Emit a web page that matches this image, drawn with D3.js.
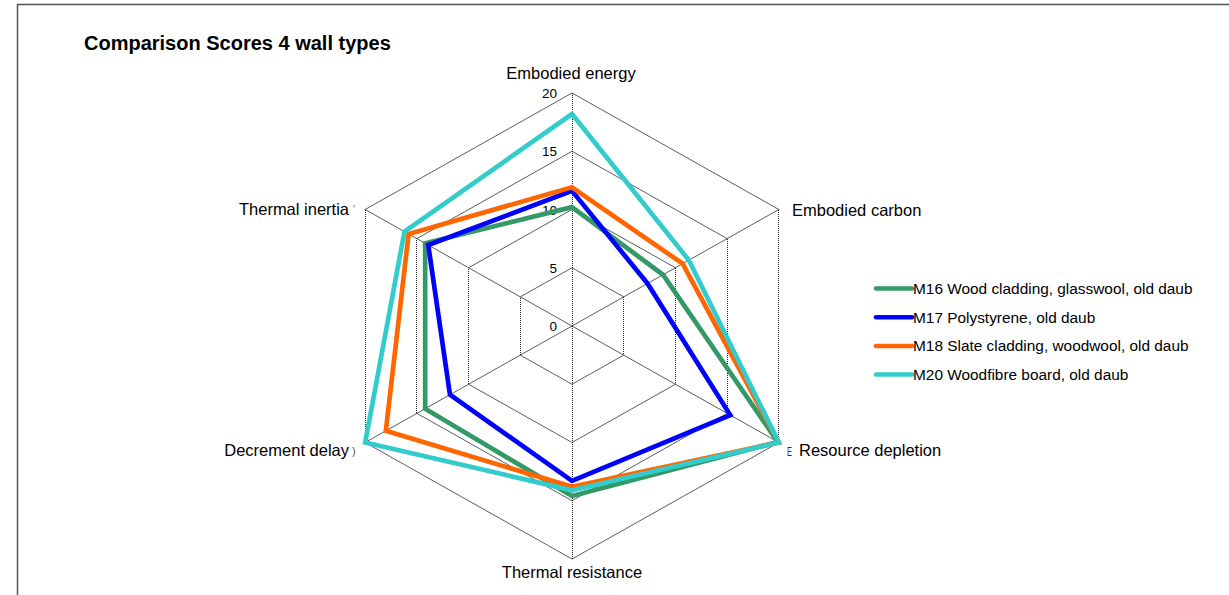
<!DOCTYPE html>
<html>
<head>
<meta charset="utf-8">
<script src="https://cdn.jsdelivr.net/npm/d3@7"></script>
<style>
  html, body { margin: 0; padding: 0; background: #fff; }
  svg { display: block; font-family: Arial, "Liberation Sans", sans-serif; }
</style>
</head>
<body>
<svg id="chart" width="1229" height="595"></svg>
<script>
// Categories (radar axes, clockwise from the top)
const axes = ["Embodied energy", "Embodied carbon", "Resource depletion",
              "Thermal resistance", "Decrement delay", "Thermal inertia"];

// Scores per wall type
const m16 = [10.2, 8.8, 19.9, 14.6, 14.2, 14.2];
const m17 = [11.6, 7.3, 15.3, 13.3, 11.8, 13.9];
const m18 = [11.9, 10.7, 20.0, 13.8, 18.0, 15.8];
const m20 = [18.2, 11.3, 20.0, 14.1, 20.0, 16.2];

const seriesNames = ["M16 Wood cladding, glasswool, old daub",
                     "M17 Polystyrene, old daub",
                     "M18 Slate cladding, woodwool, old daub",
                     "M20 Woodfibre board, old daub"];
const seriesColors = ["#339966", "#0000ff", "#ff6600", "#33cccc"];
const seriesValues = [m16, m17, m18, m20];

const ticks = [0, 5, 10, 15, 20];

const svg = d3.select("#chart");

// Chart area frame
svg.append("path")
  .attr("d", "M17.5,595 L17.5,4.5 L1229,4.5")
  .attr("fill", "none").attr("stroke", "#555").attr("stroke-width", 1.5);

svg.append("text")
  .attr("x", 84).attr("y", 50)
  .attr("font-size", 20).attr("font-weight", "bold")
  .text("Comparison Scores 4 wall types");

const cx = 572, cy = 326;
const r = d3.scaleLinear().domain([0, 20]).range([0, 233]);
const kx = 1.025; // horizontal stretch of the plot area
const angle = d3.scalePoint().domain(d3.range(axes.length)).range([0, 2 * Math.PI * 5 / 6]);

function pt(i, v) {
  const a = angle(i);
  return [cx + r(v) * kx * Math.sin(a), cy - r(v) * Math.cos(a)];
}

const grid = svg.append("g");

function seg(p, q) {
  const vertical = Math.abs(p[0] - q[0]) < 0.5;
  grid.append("line")
    .attr("x1", p[0]).attr("y1", p[1]).attr("x2", q[0]).attr("y2", q[1])
    .attr("stroke", vertical ? "#222" : "#333")
    .attr("stroke-width", vertical ? 1 : 0.8)
    .attr("stroke-dasharray", vertical ? "1,1" : null)
    .attr("shape-rendering", vertical ? "crispEdges" : null);
}

// Rings
ticks.filter(t => t > 0).forEach(t => {
  axes.forEach((_, i) => {
    const j = (i + 1) % axes.length;
    seg(pt(i, t), pt(j, t));
  });
});
// Spokes
axes.forEach((_, i) => seg(pt(i, 0), pt(i, 20)));

// Value axis labels along the top spoke
svg.append("g").selectAll("text").data(ticks).join("text")
  .attr("x", 557).attr("y", d => pt(0, d)[1] + 5)
  .attr("text-anchor", "end").attr("font-size", 13.5)
  .text(d => d);

// Series polygons
const line = d3.line()
  .x((d, i) => pt(i, d)[0])
  .y((d, i) => pt(i, d)[1])
  .curve(d3.curveLinearClosed);

svg.append("g").selectAll("path").data(seriesValues).join("path")
  .attr("d", d => line(d))
  .attr("fill", "none")
  .attr("stroke", (d, i) => seriesColors[i])
  .attr("stroke-width", 4.7)
  .attr("stroke-linejoin", "miter");

// Category labels
const labelPos = [
  { x: 571, y: 79, anchor: "middle" },
  { x: 792, y: 216, anchor: "start" },
  { x: 799, y: 456, anchor: "start" },
  { x: 572, y: 578, anchor: "middle" },
  { x: 349, y: 456, anchor: "end" },
  { x: 349, y: 215, anchor: "end" }
];
svg.append("g").selectAll("text").data(axes).join("text")
  .attr("x", (d, i) => labelPos[i].x)
  .attr("y", (d, i) => labelPos[i].y)
  .attr("text-anchor", (d, i) => labelPos[i].anchor)
  .attr("font-size", 16.5)
  .text(d => d);

// Small clipped label fragments at the plot edge
svg.append("text").attr("x", 787).attr("y", 456).attr("font-size", 12).attr("fill", "#333").text("E")
  .attr("textLength", 5).attr("lengthAdjust", "spacingAndGlyphs");
svg.append("text").attr("x", 352).attr("y", 455).attr("font-size", 11).attr("fill", "#555").text(")");
svg.append("text").attr("x", 353).attr("y", 213).attr("font-size", 10).attr("fill", "#555").text("'");

// Legend
const legend = svg.append("g").selectAll("g").data(seriesNames).join("g")
  .attr("transform", (d, i) => `translate(876, ${288.5 + i * 28.7})`);
legend.append("line")
  .attr("x1", 0).attr("x2", 36).attr("y1", 0).attr("y2", 0)
  .attr("stroke", (d, i) => seriesColors[i])
  .attr("stroke-width", 4.5).attr("stroke-linecap", "round");
legend.append("text")
  .attr("x", 37).attr("y", 5.5)
  .attr("font-size", 15.4)
  .text(d => d);
</script>
</body>
</html>
